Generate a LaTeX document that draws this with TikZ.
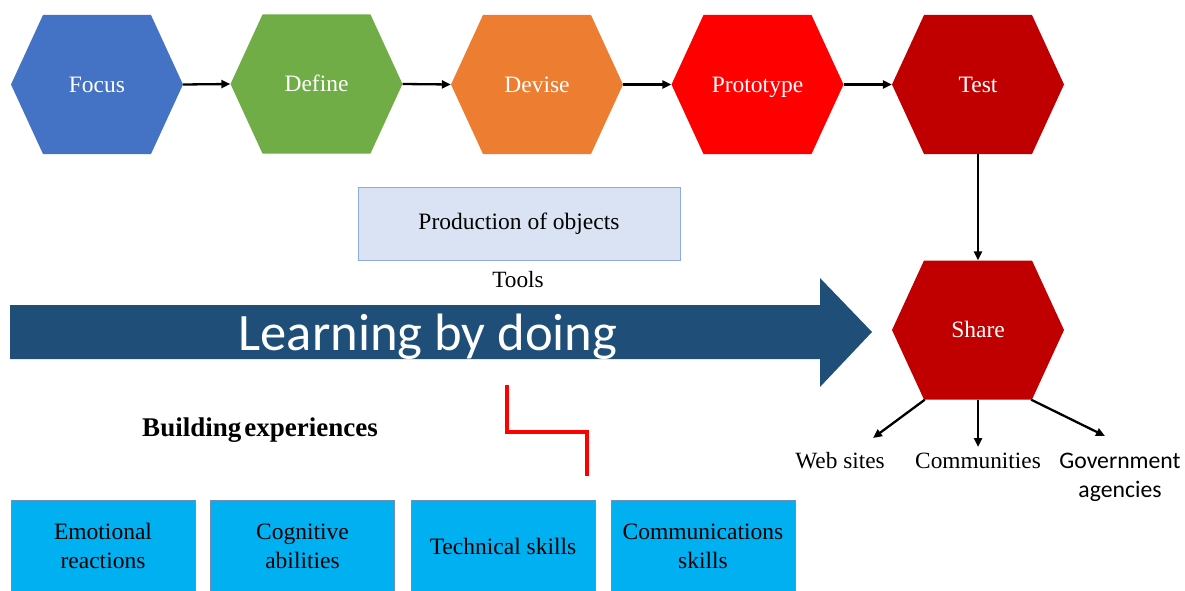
\documentclass[tikz,border=0pt]{standalone}
\usepackage{fontspec}
\setmainfont{Liberation Serif}
\newfontfamily\calibri{Carlito}
\newfontfamily\timesf{Liberation Serif}
\usetikzlibrary{arrows.meta,calc}
\definecolor{cfocus}{HTML}{4472C4}
\definecolor{cdefine}{HTML}{70AD47}
\definecolor{cdevise}{HTML}{ED7D31}
\definecolor{cproto}{HTML}{FF0000}
\definecolor{ctest}{HTML}{C00000}
\definecolor{cbig}{HTML}{1F4E79}
\definecolor{cprod}{HTML}{DAE3F3}
\definecolor{cprodline}{HTML}{8FAADC}
\definecolor{cskill}{HTML}{00B0F0}
\definecolor{cskillline}{HTML}{6F8FB8}
\begin{document}
\begin{tikzpicture}[x=1pt,y=-1pt,
  hexa/.style={minimum width=172pt,minimum height=139pt,inner sep=0pt,
    text=white,font=\timesf\fontsize{23.5}{28}\selectfont,text height=15.5pt,text depth=0pt,
    path picture={\fill[#1] ([xshift=32pt]path picture bounding box.north west)
      -- ([xshift=-32pt]path picture bounding box.north east)
      -- (path picture bounding box.east)
      -- ([xshift=-32pt]path picture bounding box.south east)
      -- ([xshift=32pt]path picture bounding box.south west)
      -- (path picture bounding box.west) -- cycle;}},
  arr/.style={line width=2.3pt,-{Triangle[length=9pt,width=8pt]}},
  skill/.style={fill=cskill,draw=cskillline,line width=0.8pt,minimum width=184pt,
    minimum height=92pt,inner sep=0pt,align=center,font=\timesf\fontsize{23.5}{29}\selectfont},
  lbl/.style={font=\timesf\fontsize{23.3}{28}\selectfont,anchor=base,inner sep=0pt},
  glbl/.style={font=\calibri\fontsize{23.7}{28}\selectfont,anchor=base,inner sep=0pt},
]
\useasboundingbox (0,0) rectangle (1185,591);

% top row
\node[hexa=cfocus]  (focus)  at (97,84.5)  {Focus};
\node[hexa=cdefine] (define) at (316.5,84) {Define};
\node[hexa=cdevise] (devise) at (537,84.5) {Devise};
\node[hexa=cproto]  (proto)  at (757.5,84.5) {Prototype};
\node[hexa=ctest]   (test)   at (978,84.5) {Test};
\node[hexa=ctest]   (share)  at (978,330)  {Share};

\draw[arr] (focus.east) -- (define.west);
\draw[arr] (define.east) -- (devise.west);
\draw[arr] (devise.east) -- (proto.west);
\draw[arr] (proto.east) -- (test.west);
\draw[arr] (test.south) -- (share.north);

% production of objects
\node[fill=cprod,draw=cprodline,line width=0.8pt,minimum width=322pt,minimum height=73pt,
  font=\timesf\fontsize{23.5}{28}\selectfont] (prod) at (519,224) {Production of objects};
\node[lbl] (tools) at (518,287) {Tools};

% big arrow
\fill[cbig] (10,305) -- (820,305) -- (820,278) -- (872,332) -- (820,387) -- (820,359) -- (10,359) -- cycle;
\node[font=\calibri\fontsize{52.6}{60}\selectfont,text=white,anchor=base,inner sep=0pt] (lbd) at (428,350) {Learning by doing};

% share outputs
\coordinate (ws) at (873,438);
\coordinate (cm) at (978,447);
\coordinate (ga) at (1105,436);
\draw[arr] ([xshift=33pt]share.south west) -- (ws);
\draw[arr] (share.south) -- (cm);
\draw[arr] ([xshift=-33pt]share.south east) -- (ga);
\node[lbl] (websites) at (840,468) {Web sites};
\node[lbl] (communities) at (978,468) {Communities};
\node[glbl] (gov) at (1120,468) {Government};
\node[glbl] (gov2) at (1120,497) {agencies};

% building experiences
\node[font=\timesf\bfseries\fontsize{27}{32}\selectfont,anchor=base,inner sep=0pt] (be) at (260,436) {Building\hspace{3pt}experiences};

% red step line
\coordinate (r1) at (507,385);
\coordinate (r3) at (587,432);
\coordinate (r2) at (587,476);
\draw[red,line width=4.5pt,line join=miter] (r1) |- (r3) -- (r2);

% skills boxes
\node[skill] (emo)  at (103,546)   {Emotional\\reactions};
\node[skill] (cog)  at (302.5,546) {Cognitive\\abilities};
\node[skill] (tech) at (503,546)   {Technical skills};
\node[skill] (comm) at (703,546)   {Communications\\skills};
\end{tikzpicture}
\end{document}
